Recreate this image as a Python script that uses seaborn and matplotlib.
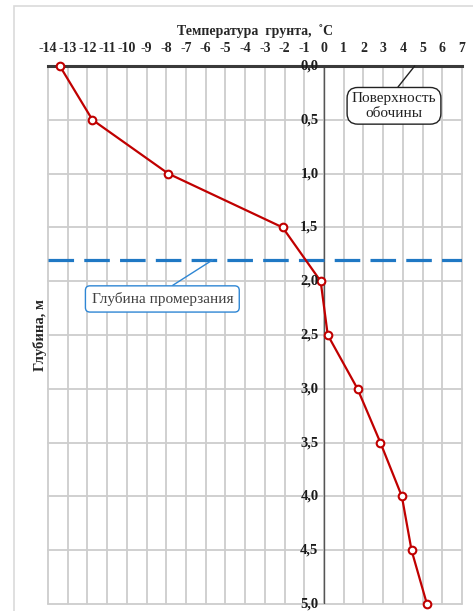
import matplotlib
matplotlib.use("Agg")
import matplotlib.pyplot as plt
import matplotlib.patches as mpatches
import numpy as np
import pandas as pd
import seaborn as sns

# Data
depth = [0.0, 0.5, 1.0, 1.5, 2.0, 2.5, 3.0, 3.5, 4.0, 4.5, 5.0]
temperature = [-13.4, -11.75, -7.9, -2.1, -0.17, 0.19, 1.7, 2.86, 3.95, 4.44, 5.22]
frost_depth = 1.8
x_ticks = list(range(-14, 8))
y_ticks = [0.0, 0.5, 1.0, 1.5, 2.0, 2.5, 3.0, 3.5, 4.0, 4.5, 5.0]
y_tick_labels = ["0,0", "0,5", "1,0", "1,5", "2,0", "2,5", "3,0", "3,5", "4,0", "4,5", "5,0"]
title = "Температура  грунта,  ˚C"
ylabel = "Глубина, м"
surface_label = "Поверхность\nобочины"
frost_label = "Глубина промерзания"

sns.set_style("white")
plt.rcParams["font.family"] = ["Liberation Serif", "DejaVu Serif"]

df = pd.DataFrame({"t": temperature, "d": depth})

W, H = 473, 611
fig = plt.figure(figsize=(W / 100, H / 100), dpi=100)
ax = fig.add_axes([48 / W, 1 - 604 / H, (462 - 48) / W, (604 - 66) / H])

# outer chart frame
fig.patches.append(mpatches.Rectangle((14 / W, -0.1), 1.2, 1 - 6 / H + 0.1,
                                      transform=fig.transFigure, fill=False,
                                      edgecolor="#dadada", linewidth=1.2))

ax.set_xlim(-14, 7)
ax.set_ylim(5.0, 0.0)
ax.set_xticks(x_ticks)
ax.set_yticks(y_ticks)
ax.grid(True, color="#cdcdcd", linewidth=1.3)
ax.set_axisbelow(True)
for g in ax.get_xgridlines() + ax.get_ygridlines():
    g.set_clip_on(False)

for s in ["left", "right", "bottom"]:
    ax.spines[s].set_visible(False)
ax.spines["top"].set_color("#3a3a3a")
ax.spines["top"].set_linewidth(2.2)
ax.spines["top"].set_zorder(5)

ax.axvline(0, color="#555555", linewidth=1.0, zorder=2)

ax.axhline(frost_depth, color="#1f78c4", linewidth=2.3, dashes=(8, 3.2), zorder=3)

sns.lineplot(data=df, x="t", y="d", sort=False, ax=ax, color="#c00000",
             linewidth=1.6, marker="o", markersize=5.5, markerfacecolor="white",
             markeredgecolor="#c00000", markeredgewidth=1.5, zorder=6, clip_on=False)

ax.xaxis.set_ticks_position("top")
ax.xaxis.set_label_position("top")
ax.tick_params(axis="x", length=0, pad=8, labelsize=10)
ax.set_xticklabels([str(v) for v in x_ticks], fontweight="bold")
ax.set_xlabel(title, fontsize=10, fontweight="bold", labelpad=5)

ax.set_yticklabels([])
ax.tick_params(axis="y", length=0)
ax.set_ylabel("")
for yv, lab in zip(y_ticks, y_tick_labels):
    ax.annotate(lab, xy=(0, yv), xytext=(-4, 0), textcoords="offset points",
                ha="right", va="center", fontsize=10.5, fontweight="bold",
                color="#1a1a1a", zorder=7)

fig.text(40 / W, 1 - 335 / H, ylabel, rotation=90, ha="center", va="center",
         fontsize=10.5, fontweight="bold")

ax.annotate(surface_label, xy=(4.6, 0.0), xytext=(3.55, 0.37), ha="center", va="center",
            fontsize=11, color="#222222", linespacing=1.15,
            bbox=dict(boxstyle="round,pad=0.3,rounding_size=0.7", fc="white",
                      ec="#222222", lw=1.0),
            arrowprops=dict(arrowstyle="-", color="#222222", lw=1.0,
                            relpos=(0.5, 1.0), shrinkA=0, shrinkB=0),
            zorder=8)

ax.annotate(frost_label, xy=(-5.63, frost_depth), xytext=(-8.2, 2.165), ha="center",
            va="center", fontsize=11, color="#404040",
            bbox=dict(boxstyle="round,pad=0.4,rounding_size=0.3", fc="white",
                      ec="#2e86d4", lw=1.0),
            arrowprops=dict(arrowstyle="-", color="#2e86d4", lw=1.0,
                            relpos=(0.5, 1.0), shrinkA=0, shrinkB=0),
            zorder=8)

fig.savefig("out.png", dpi=100)
